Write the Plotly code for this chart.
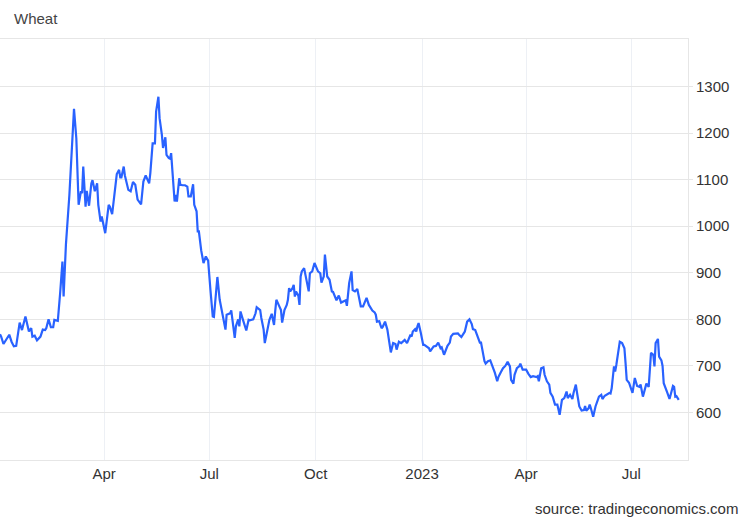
import plotly.graph_objects as go

dates = [
    "2022-01-01", "2022-01-02", "2022-01-04", "2022-01-07", "2022-01-09", "2022-01-11", "2022-01-13", "2022-01-15",
    "2022-01-18", "2022-01-20", "2022-01-23", "2022-01-26", "2022-01-28", "2022-01-29", "2022-01-31", "2022-02-02",
    "2022-02-05", "2022-02-07", "2022-02-09", "2022-02-10", "2022-02-12", "2022-02-14", "2022-02-16", "2022-02-17",
    "2022-02-19", "2022-02-20", "2022-02-22", "2022-02-24", "2022-02-25", "2022-02-27", "2022-03-02", "2022-03-04",
    "2022-03-06", "2022-03-08", "2022-03-09", "2022-03-10", "2022-03-12", "2022-03-13", "2022-03-14", "2022-03-16",
    "2022-03-17", "2022-03-19", "2022-03-21", "2022-03-22", "2022-03-24", "2022-03-26", "2022-03-27", "2022-03-29",
    "2022-03-30", "2022-04-02", "2022-04-05", "2022-04-06", "2022-04-08", "2022-04-10", "2022-04-12", "2022-04-14",
    "2022-04-15", "2022-04-16", "2022-04-18", "2022-04-19", "2022-04-22", "2022-04-24", "2022-04-26", "2022-04-28",
    "2022-04-30", "2022-05-03", "2022-05-05", "2022-05-07", "2022-05-10", "2022-05-11", "2022-05-13", "2022-05-15",
    "2022-05-16", "2022-05-18", "2022-05-19", "2022-05-21", "2022-05-22", "2022-05-24", "2022-05-25", "2022-05-27",
    "2022-05-28", "2022-05-29", "2022-05-31", "2022-06-01", "2022-06-02", "2022-06-03", "2022-06-05", "2022-06-06",
    "2022-06-08", "2022-06-10", "2022-06-12", "2022-06-13", "2022-06-15", "2022-06-17", "2022-06-18", "2022-06-20",
    "2022-06-21", "2022-06-22", "2022-06-24", "2022-06-26", "2022-06-28", "2022-06-30", "2022-07-02", "2022-07-04",
    "2022-07-05", "2022-07-08", "2022-07-10", "2022-07-12", "2022-07-13", "2022-07-15", "2022-07-16", "2022-07-19",
    "2022-07-20", "2022-07-21", "2022-07-23", "2022-07-24", "2022-07-26", "2022-07-27", "2022-07-28", "2022-07-30",
    "2022-08-02", "2022-08-04", "2022-08-05", "2022-08-08", "2022-08-10", "2022-08-11", "2022-08-14", "2022-08-15",
    "2022-08-17", "2022-08-18", "2022-08-20", "2022-08-22", "2022-08-24", "2022-08-26", "2022-08-27", "2022-08-28",
    "2022-08-30", "2022-09-01", "2022-09-02", "2022-09-04", "2022-09-06", "2022-09-07", "2022-09-08", "2022-09-09",
    "2022-09-11", "2022-09-12", "2022-09-13", "2022-09-14", "2022-09-16", "2022-09-17", "2022-09-18", "2022-09-19",
    "2022-09-21", "2022-09-23", "2022-09-25", "2022-09-26", "2022-09-28", "2022-09-30", "2022-10-02", "2022-10-03",
    "2022-10-05", "2022-10-06", "2022-10-08", "2022-10-09", "2022-10-11", "2022-10-13", "2022-10-15", "2022-10-16",
    "2022-10-19", "2022-10-21", "2022-10-23", "2022-10-25", "2022-10-27", "2022-10-28", "2022-10-30", "2022-11-01",
    "2022-11-02", "2022-11-04", "2022-11-06", "2022-11-07", "2022-11-09", "2022-11-11", "2022-11-12", "2022-11-14",
    "2022-11-16", "2022-11-18", "2022-11-19", "2022-11-21", "2022-11-22", "2022-11-23", "2022-11-25", "2022-11-26",
    "2022-11-27", "2022-11-28", "2022-11-30", "2022-12-02", "2022-12-04", "2022-12-05", "2022-12-07", "2022-12-09",
    "2022-12-10", "2022-12-12", "2022-12-14", "2022-12-15", "2022-12-17", "2022-12-19", "2022-12-20", "2022-12-22",
    "2022-12-23", "2022-12-24", "2022-12-26", "2022-12-27", "2022-12-28", "2022-12-29", "2022-12-31", "2023-01-02",
    "2023-01-03", "2023-01-05", "2023-01-07", "2023-01-08", "2023-01-10", "2023-01-11", "2023-01-13", "2023-01-15",
    "2023-01-17", "2023-01-18", "2023-01-20", "2023-01-21", "2023-01-23", "2023-01-25", "2023-01-26", "2023-01-28",
    "2023-01-30", "2023-02-01", "2023-02-02", "2023-02-04", "2023-02-06", "2023-02-07", "2023-02-09", "2023-02-11",
    "2023-02-13", "2023-02-14", "2023-02-16", "2023-02-18", "2023-02-20", "2023-02-21", "2023-02-23", "2023-02-24",
    "2023-02-25", "2023-02-27", "2023-03-01", "2023-03-03", "2023-03-04", "2023-03-05", "2023-03-07", "2023-03-08",
    "2023-03-10", "2023-03-12", "2023-03-14", "2023-03-16", "2023-03-18", "2023-03-19", "2023-03-21", "2023-03-22",
    "2023-03-24", "2023-03-26", "2023-03-27", "2023-03-29", "2023-03-30", "2023-04-01", "2023-04-03", "2023-04-05",
    "2023-04-07", "2023-04-09", "2023-04-10", "2023-04-11", "2023-04-12", "2023-04-14", "2023-04-16", "2023-04-17",
    "2023-04-19", "2023-04-21", "2023-04-22", "2023-04-24", "2023-04-26", "2023-04-28", "2023-04-29", "2023-04-30",
    "2023-05-02", "2023-05-04", "2023-05-06", "2023-05-07", "2023-05-09", "2023-05-11", "2023-05-12", "2023-05-14",
    "2023-05-15", "2023-05-17", "2023-05-19", "2023-05-21", "2023-05-22", "2023-05-23", "2023-05-25", "2023-05-26",
    "2023-05-27", "2023-05-29", "2023-05-31", "2023-06-02", "2023-06-03", "2023-06-05", "2023-06-06", "2023-06-08",
    "2023-06-10", "2023-06-12", "2023-06-13", "2023-06-14", "2023-06-16", "2023-06-17", "2023-06-18", "2023-06-20",
    "2023-06-21", "2023-06-23", "2023-06-25", "2023-06-26", "2023-06-27", "2023-06-29", "2023-07-01", "2023-07-02",
    "2023-07-04", "2023-07-06", "2023-07-08", "2023-07-09", "2023-07-11", "2023-07-13", "2023-07-14", "2023-07-16",
    "2023-07-17", "2023-07-18", "2023-07-20", "2023-07-21", "2023-07-22", "2023-07-24", "2023-07-25", "2023-07-27",
    "2023-07-28", "2023-07-29", "2023-08-01", "2023-08-03", "2023-08-04", "2023-08-06", "2023-08-07", "2023-08-08",
    "2023-08-09", "2023-08-11",
]

prices = [
    768, 763, 747, 760, 767, 752, 742, 743,
    793, 777, 806, 774, 781, 763, 765, 755,
    763, 778, 777, 781, 800, 783, 783, 799,
    798, 797, 856, 924, 849, 960, 1067, 1160,
    1252, 1189, 1110, 1046, 1075, 1071, 1128, 1042,
    1076, 1044, 1092, 1099, 1075, 1092, 1046, 1010,
    1021, 985, 1046, 1042, 1026, 1075, 1112, 1121,
    1105, 1105, 1128, 1109, 1078, 1075, 1095, 1089,
    1057, 1047, 1096, 1109, 1092, 1114, 1178, 1178,
    1246, 1278, 1232, 1196, 1168, 1191, 1153, 1146,
    1145, 1157, 1089, 1053, 1067, 1053, 1103, 1089,
    1088, 1088, 1085, 1064, 1064, 1090, 1046, 1032,
    989, 989, 948, 921, 935, 926, 863, 806,
    805, 891, 842, 813, 806, 778, 810, 813,
    819, 799, 760, 785, 800, 785, 817, 800,
    776, 799, 798, 800, 813, 826, 820, 803,
    778, 749, 778, 799, 812, 788, 817, 842,
    831, 820, 793, 820, 831, 842, 867, 860,
    867, 874, 849, 860, 851, 831, 892, 903,
    910, 885, 860, 899, 903, 921, 910, 903,
    899, 879, 892, 939, 892, 885, 860, 859,
    841, 851, 836, 838, 841, 829, 878, 903,
    863, 860, 865, 853, 828, 828, 835, 846,
    831, 822, 819, 815, 810, 795, 796, 788,
    781, 784, 795, 778, 749, 729, 749, 747,
    735, 752, 749, 751, 756, 749, 754, 767,
    763, 774, 779, 774, 785, 792, 770, 745,
    745, 742, 738, 731, 740, 742, 743, 750,
    738, 740, 724, 731, 743, 750, 763, 769,
    770, 770, 767, 762, 770, 774, 795, 800,
    790, 779, 777, 761, 750, 750, 720, 710,
    705, 710, 712, 699, 695, 685, 667, 676,
    686, 695, 700, 709, 699, 670, 662, 681,
    695, 699, 705, 692, 692, 692, 683, 676,
    678, 676, 676, 678, 667, 695, 697, 681,
    667, 660, 642, 634, 617, 617, 606, 595,
    627, 631, 645, 631, 638, 629, 642, 660,
    643, 613, 604, 605, 614, 604, 609, 617,
    609, 591, 613, 627, 634, 638, 629, 636,
    640, 642, 641, 652, 699, 688, 702, 742,
    752, 749, 738, 706, 670, 664, 652, 642,
    674, 657, 655, 660, 634, 650, 662, 655,
    683, 728, 724, 699, 749, 758, 720, 712,
    700, 663, 643, 629, 638, 657, 655, 634,
    635, 627,
]

x_tick_vals = ["2022-04-01", "2022-07-01", "2022-10-01", "2023-01-01", "2023-04-01", "2023-07-01"]
x_tick_text = ["Apr", "Jul", "Oct", "2023", "Apr", "Jul"]
y_tick_vals = [600, 700, 800, 900, 1000, 1100, 1200, 1300]

FONT = "Liberation Sans, Arial, sans-serif"

fig = go.Figure()
fig.add_trace(go.Scatter(
    x=dates, y=prices, mode="lines",
    line=dict(color="#2962ff", width=2.2),
    hoverinfo="x+y", showlegend=False,
))

fig.update_layout(
    width=750, height=520,
    margin=dict(l=0, r=62, t=39, b=60),
    paper_bgcolor="white", plot_bgcolor="white",
    font=dict(family=FONT, size=15, color="#333333"),
    title=dict(text="Wheat", x=14 / 750, xanchor="left", xref="container",
               y=1 - 19 / 520, yanchor="middle", yref="container",
               font=dict(family=FONT, size=15, color="#444444")),
    xaxis=dict(
        type="date", range=["2022-01-01", "2023-08-19"],
        tickvals=x_tick_vals, ticktext=x_tick_text,
        showgrid=True, gridcolor="#edf0f5", gridwidth=1,
        showline=True, mirror=True, linecolor="#e6e6e6", linewidth=1,
        ticks="", tickfont=dict(family=FONT, size=15, color="#333333"),
        zeroline=False, fixedrange=True,
    ),
    yaxis=dict(
        side="right", range=[498, 1402],
        tickvals=y_tick_vals,
        showgrid=True, gridcolor="#e6e6e6", gridwidth=1,
        showline=True, linecolor="#e6e6e6", linewidth=1,
        ticks="outside", ticklen=4, tickcolor="#e6e6e6",
        ticklabelstandoff=0,
        tickfont=dict(family=FONT, size=15, color="#333333"),
        zeroline=False, fixedrange=True,
    ),
    annotations=[dict(
        text="source: tradingeconomics.com", xref="paper", yref="paper",
        x=740 / 688, y=(460 - 508) / 421, xanchor="right", yanchor="middle",
        showarrow=False, font=dict(family=FONT, size=15, color="#333333"),
    )],
)

fig.write_html("out.html", config={"displayModeBar": False},
               post_script="document.body.style.margin='0';")
